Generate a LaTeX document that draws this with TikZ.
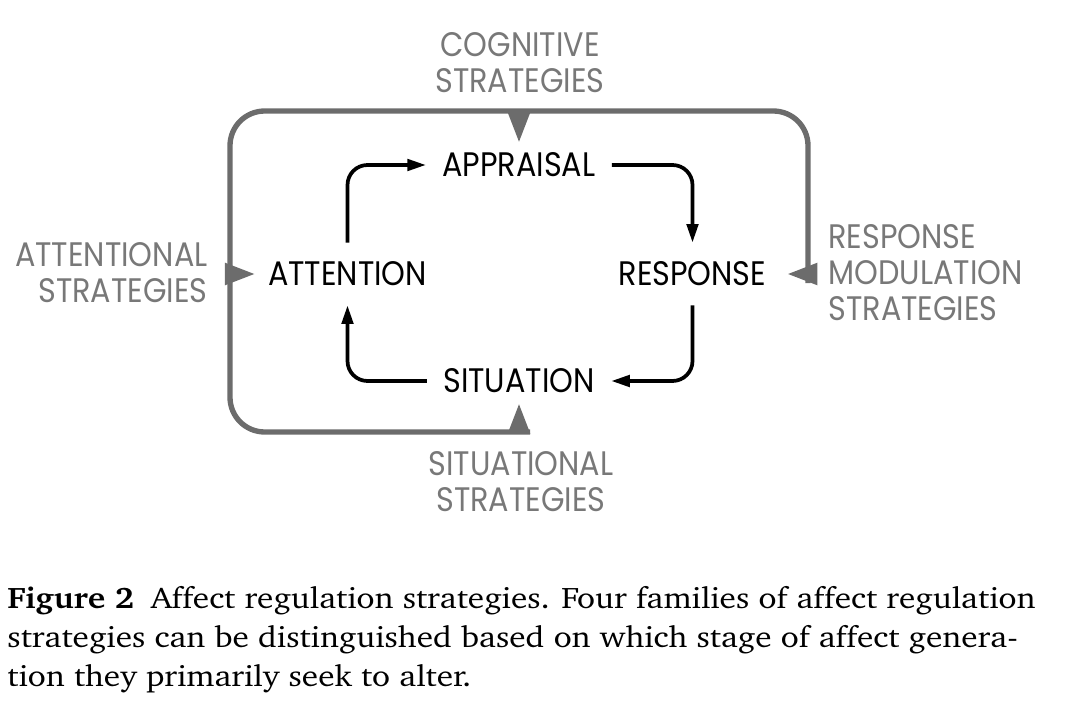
\documentclass[tikz,border=0pt]{standalone}
\usepackage[T1]{fontenc}
\usepackage{fontspec}
\usepackage{tikz}
\usetikzlibrary{arrows.meta}
\newfontfamily\stagefont[FakeStretch=0.89]{Poppins}
\newcommand\capfont{\fontencoding{T1}\fontfamily{bch}\fontsize{22.3}{29.25}\selectfont}
\definecolor{framegray}{RGB}{108,108,108}
\definecolor{labelgray}{RGB}{120,120,120}
\tikzset{every picture/.style={line width=0.75pt}}
\tikzset{
  stage/.style={font=\stagefont\fontsize{25.5}{27}\selectfont, inner xsep=12pt, inner ysep=14pt},
  strat/.style={font=\stagefont\fontsize{25.5}{27}\selectfont, text=labelgray, inner sep=0pt},
  flow/.style={line width=2.8pt, rounded corners=15pt, -{Triangle[length=14pt,width=8.5pt]}},
  frame/.style={draw=framegray, line width=4pt, rounded corners=26pt},
  stratarrow/.style={draw=framegray, line width=4pt, -{Triangle[length=22pt,width=17pt,line width=0pt]}}
}

\begin{document}
\begin{tikzpicture}[x=0.75pt,y=0.75pt,yscale=-1,xscale=1]
\path (0,0) rectangle (1076,710); %set diagram size

% Stage Nodes
\draw (519,165) node[stage] (app) {APPRAISAL};
\draw (347.5,274) node[stage] (att) {ATTENTION};
\draw (692.5,274) node[stage] (resp) {RESPONSE};
\draw (519,381) node[stage] (sit) {SITUATION};

% Frame points
\coordinate (ft) at (519,111);
\coordinate (fb) at (519,432);
\coordinate (fl) at (230,274);
\coordinate (fr) at (808,274);

%Shape: Frame
\draw[frame] (530,432) -| (fl) |- (ft) -| (808,283);

%Strategy arrows
\draw[stratarrow, shorten >=-6pt] (ft) -- (app.north);
\draw[stratarrow, shorten >=-6pt] (fb) -- (sit.south);
\draw[stratarrow, shorten >=-2pt] (fl) -- (att.west);
\draw[stratarrow, shorten >=4pt] (fr) -- (resp.east);

%Cycle arrows
\draw[flow] (att.north) |- (app.west);
\draw[flow] (app.east) -| (resp.north);
\draw[flow] (resp.south) |- (sit.east);
\draw[flow] (sit.west) -| (att.south);

% Text Node
\draw (520,63) node[strat, align=center] (cog) {COGNITIVE\\STRATEGIES};
% Text Node
\draw (208,273) node[strat, align=right, anchor=east] (attstrat) {ATTENTIONAL\\STRATEGIES};
% Text Node
\draw (828,273) node[strat, align=left, anchor=west] (respstrat) {RESPONSE\\MODULATION\\STRATEGIES};
% Text Node
\draw (521,482) node[strat, align=center] (sitstrat) {SITUATIONAL\\STRATEGIES};
% Text Node
\draw (7,581) node[anchor=north west, inner sep=0pt, font=\capfont] (cap) {\scalebox{1.12}[1]{\begin{tabular}{@{}l@{}}\textbf{Figure 2}\enspace Affect regulation strategies. Four families of affect regulation\\strategies can be distinguished based on which stage of affect genera-\\tion they primarily seek to alter.\end{tabular}}};

\end{tikzpicture}
\end{document}
